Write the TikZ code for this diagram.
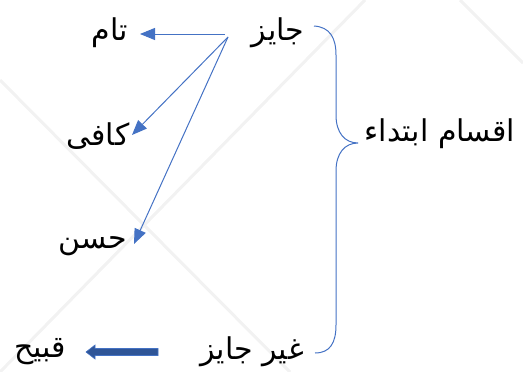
\documentclass[tikz,border=0pt]{standalone}
\usepackage{fontspec}
\newfontfamily\arabicfont[Script=Arabic]{DejaVu Sans}
\TeXXeTstate=1
\usetikzlibrary{arrows.meta}
\definecolor{lineblue}{HTML}{4472C4}
\definecolor{darkblue}{HTML}{2F5597}
\tikzset{
  lbl/.style={font=\arabicfont\fontsize{30}{34}\selectfont, inner sep=0pt, text=black},
  conn/.style={draw=lineblue, line width=1pt, -{Triangle[length=15pt,width=12pt]}},
  wm/.style={draw=black!5, line width=3pt},
}
\begin{document}
\begin{tikzpicture}[x=1pt,y=-1pt]
\useasboundingbox (0,0) rectangle (523,372);
% faint background lines
\draw[wm] (0,80) -- (290,372);
\draw[wm] (365,0) -- (0,372);
\draw[wm] (460,0) -- (523,63);
% labels
\node[lbl] (jayez) at (278,33) {\beginR جایز\endR};
\node[lbl] (tam) at (110,33) {\beginR تام\endR};
\node[lbl] (kafi) at (98,136) {\beginR کافی\endR};
\node[lbl] (hasan) at (93,246) {\beginR حسن\endR};
\node[lbl] (ghayr) at (252,352) {\beginR غیر جایز\endR};
\node[lbl] (qabih) at (40,352) {\beginR قبیح\endR};
\node[lbl] (aqsam) at (440,134) {\beginR اقسام ابتداء\endR};
% connector start points
\coordinate (s1) at (225,34);
\coordinate (s2) at (228,37);
\coordinate (t1) at (140,34);
\coordinate (t2) at (132,135);
\coordinate (t3) at (134,244);
\draw[conn] (s1) -- (t1);
\draw[conn] (s2) -- (t2);
\draw[conn] (s2) -- (t3);
% brace
\coordinate (btop) at (314,26);
\coordinate (btip) at (358,143);
\coordinate (bbot) at (315,353);
\draw[lineblue, line width=1pt]
  (btop) .. controls (330,27) and (336,38) .. (336,55)
  -- (336,115) .. controls (336,133) and (345,143) .. (btip)
  .. controls (345,143) and (336,153) .. (336,171)
  -- (336,325) .. controls (336,343) and (330,353) .. (bbot);
% thick arrow
\filldraw[fill=darkblue, draw=lineblue, line width=0.6pt]
  (158,348.5) -- (95,348.5) -- (95,345) -- (86,352) -- (95,359) -- (95,355.5) -- (158,355.5) -- cycle;
\end{tikzpicture}
\end{document}
